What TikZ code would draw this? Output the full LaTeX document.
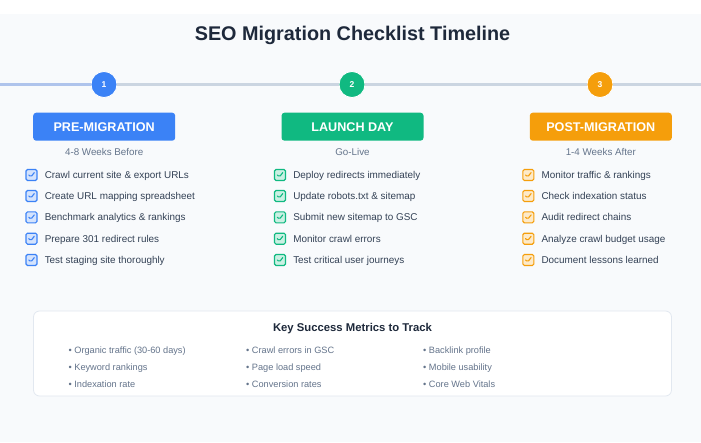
\documentclass[tikz,border=0pt]{standalone}
\usepackage{fontspec}
\setmainfont{Liberation Sans}
\usetikzlibrary{positioning}
\definecolor{pageback}{HTML}{F8FAFC}
\definecolor{titlecol}{HTML}{1E293B}
\definecolor{itemcol}{HTML}{334155}
\definecolor{subcol}{HTML}{64748B}
\definecolor{linecol}{HTML}{CBD5E1}
\definecolor{linecolblue}{HTML}{AFC4EC}
\definecolor{prec}{HTML}{3B82F6}
\definecolor{launchc}{HTML}{10B981}
\definecolor{postc}{HTML}{F59E0B}
\definecolor{cardline}{HTML}{E2E8F0}
\tikzset{
  tline/.style={line width=2.5pt, draw=linecol},
  stepdot/.style={circle, fill=#1, draw=white, line width=0.8pt, minimum size=26pt, inner sep=0pt,
    text=white, font=\bfseries\fontsize{8.5}{10}\selectfont},
  phasebox/.style={fill=#1, rounded corners=3pt, minimum width=142pt, minimum height=28pt, inner sep=0pt,
    text=white, font=\bfseries\fontsize{12.6}{14}\selectfont},
  phasesub/.style={text=subcol, inner sep=0pt, font=\fontsize{9.8}{12}\selectfont},
  tickbox/.style={draw=#1, fill=#1!22, line width=1.1pt, rounded corners=1.5pt, minimum size=11pt, inner sep=0pt,
    path picture={\draw[#1, line width=1.1pt, line cap=round, line join=round]
      ([shift={(-2.7pt,0.1pt)}]path picture bounding box.center)
      -- ([shift={(-0.7pt,-2pt)}]path picture bounding box.center)
      -- ([shift={(2.8pt,2.4pt)}]path picture bounding box.center);}},
  checkitem/.style={anchor=west, inner sep=0pt, text height=7.2pt, text depth=0.6pt,
    text=itemcol, font=\fontsize{9.9}{12}\selectfont},
  metric/.style={anchor=west, inner sep=0pt, text height=6.6pt, text depth=1.2pt,
    text=subcol, font=\fontsize{9.2}{11}\selectfont},
}
\begin{document}
\begin{tikzpicture}[x=1pt, y=-1pt] %[scale=0.8]
      \useasboundingbox (0,0) rectangle (701,442);
      \fill[white] (0,0) rectangle (701,442);
      \fill[pageback] (0,14) rectangle (701,442);
      \node[text=titlecol, font=\bfseries\fontsize{19.8}{22}\selectfont] (title) at (352.5,35) {SEO Migration Checklist Timeline};

      \coordinate (tlstart) at (0,84.5);
      \coordinate (tlend) at (701,84.5);
      \node[stepdot=prec] (step1) at (104,84.5) {1};
      \node[stepdot=launchc] (step2) at (352,84.5) {2};
      \node[stepdot=postc] (step3) at (600,84.5) {3};
      \draw[tline, draw=linecolblue] (tlstart) -- (step1);
      \draw[tline] (step1) -- (step2);
      \draw[tline] (step2) -- (step3);
      \draw[tline] (step3) -- (tlend);

      \node[phasebox=prec] (pre) at (104.2,126.7) {PRE-MIGRATION};
      \node[phasebox=launchc] (launch) at (352.5,126.7) {LAUNCH DAY};
      \node[phasebox=postc] (post) at (600.8,126.7) {POST-MIGRATION};
      \node[phasesub] (presub) at (104.2,151.7) {4-8 Weeks Before};
      \node[phasesub] (launchsub) at (352.5,151.7) {Go-Live};
      \node[phasesub] (postsub) at (600.8,151.7) {1-4 Weeks After};

      \node[tickbox=prec] (c11) at (31.5,175) {};
      \node[tickbox=prec] (c12) at (31.5,196) {};
      \node[tickbox=prec] (c13) at (31.5,217.3) {};
      \node[tickbox=prec] (c14) at (31.5,238.7) {};
      \node[tickbox=prec] (c15) at (31.5,260) {};
      \node[checkitem, right=7pt of c11] (t11) {Crawl current site \& export URLs};
      \node[checkitem, right=7pt of c12] (t12) {Create URL mapping spreadsheet};
      \node[checkitem, right=7pt of c13] (t13) {Benchmark analytics \& rankings};
      \node[checkitem, right=7pt of c14] (t14) {Prepare 301 redirect rules};
      \node[checkitem, right=7pt of c15] (t15) {Test staging site thoroughly};

      \node[tickbox=launchc] (c21) at (280,175) {};
      \node[tickbox=launchc] (c22) at (280,196) {};
      \node[tickbox=launchc] (c23) at (280,217.3) {};
      \node[tickbox=launchc] (c24) at (280,238.7) {};
      \node[tickbox=launchc] (c25) at (280,260) {};
      \node[checkitem, right=7pt of c21] (t21) {Deploy redirects immediately};
      \node[checkitem, right=7pt of c22] (t22) {Update robots.txt \& sitemap};
      \node[checkitem, right=7pt of c23] (t23) {Submit new sitemap to GSC};
      \node[checkitem, right=7pt of c24] (t24) {Monitor crawl errors};
      \node[checkitem, right=7pt of c25] (t25) {Test critical user journeys};

      \node[tickbox=postc] (c31) at (528.3,175) {};
      \node[tickbox=postc] (c32) at (528.3,196) {};
      \node[tickbox=postc] (c33) at (528.3,217.3) {};
      \node[tickbox=postc] (c34) at (528.3,238.7) {};
      \node[tickbox=postc] (c35) at (528.3,260) {};
      \node[checkitem, right=7pt of c31] (t31) {Monitor traffic \& rankings};
      \node[checkitem, right=7pt of c32] (t32) {Check indexation status};
      \node[checkitem, right=7pt of c33] (t33) {Audit redirect chains};
      \node[checkitem, right=7pt of c34] (t34) {Analyze crawl budget usage};
      \node[checkitem, right=7pt of c35] (t35) {Document lessons learned};

      \node[fill=white, draw=cardline, line width=0.8pt, rounded corners=6pt, minimum width=638pt, minimum height=85pt, inner sep=0pt] (metrics) at (352.5,353.5) {};
      \node[text=titlecol, font=\bfseries\fontsize{11.3}{13}\selectfont] (mtitle) at (352.5,328.5) {Key Success Metrics to Track};
      \node[metric] (m11) at (68.4,351) {• Organic traffic (30-60 days)};
      \node[metric] (m12) at (68.4,368) {• Keyword rankings};
      \node[metric] (m13) at (68.4,385) {• Indexation rate};
      \node[metric] (m21) at (246,351) {• Crawl errors in GSC};
      \node[metric] (m22) at (246,368) {• Page load speed};
      \node[metric] (m23) at (246,385) {• Conversion rates};
      \node[metric] (m31) at (423,351) {• Backlink profile};
      \node[metric] (m32) at (423,368) {• Mobile usability};
      \node[metric] (m33) at (423,385) {• Core Web Vitals};
    \end{tikzpicture}
\end{document}
